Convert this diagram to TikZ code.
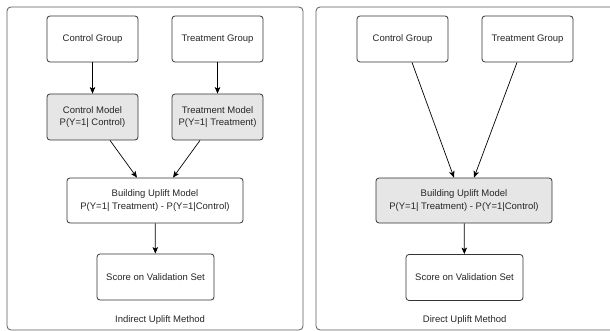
\documentclass[tikz,border=0pt]{standalone}
\usepackage{fontspec}
\setmainfont{Liberation Sans}
\usepackage{tikz}
\usepackage{xcolor}
\usetikzlibrary{positioning, arrows.meta}

\definecolor{boxline}{HTML}{333333}
\definecolor{frameline}{HTML}{5A5A5A}
\definecolor{modelfill}{HTML}{E6E6E6}

\tikzset{
    stepbox/.style={rectangle, rounded corners=3pt, draw=boxline, line width=0.8pt, fill=white, align=center,
        font=\fontsize{9.5}{12.5}\selectfont, text=black!85, minimum height=46pt, inner sep=2pt},
    groupbox/.style={stepbox, minimum width=91pt},
    modelbox/.style={stepbox, minimum width=91pt, fill=modelfill},
    upliftbox/.style={stepbox, minimum width=176pt, minimum height=45pt},
    scorebox/.style={stepbox, minimum width=117pt},
    panel/.style={rounded corners=4pt, draw=frameline, line width=0.8pt},
    caption/.style={font=\fontsize{9.5}{12}\selectfont, text=black!85},
    flow/.style={-{Stealth[length=6.5pt, width=5.5pt, inset=1.5pt]}, line width=0.7pt}
}

\begin{document}
\begin{tikzpicture}[x=1pt, y=-1pt]
            \clip (0, 0) rectangle (610, 331);
            \draw[panel] (7, 7) rectangle (303, 330);
            \draw[panel] (316, 7) rectangle (618, 330);

            % indirect method
            \node[groupbox] (cg) at (92.5, 39) {Control Group};
            \node[groupbox] (tg) at (217.5, 39) {Treatment Group};
            \node[modelbox] (cm) at (92.5, 117) {Control Model\\P(Y=1| Control)};
            \node[modelbox] (tm) at (217.5, 117) {Treatment Model\\P(Y=1| Treatment)};
            \node[upliftbox] (um) at (155, 200.5) {Building Uplift Model\\P(Y=1| Treatment) - P(Y=1|Control)};
            \node[scorebox] (sv) at (155.5, 277) {Score on Validation Set};
            \node[caption] (ind) at (160, 320) {Indirect Uplift Method};

            \draw[flow] (cg) -- (cm);
            \draw[flow] (tg) -- (tm);
            \draw[flow] ([xshift=17.5pt]cm.south) -- ([xshift=-18pt]um.north);
            \draw[flow] ([xshift=-17.5pt]tm.south) -- ([xshift=18pt]um.north);
            \draw[flow] (um) -- (sv);

            % direct method
            \node[groupbox] (cg2) at (402.5, 39) {Control Group};
            \node[groupbox] (tg2) at (527.5, 39) {Treatment Group};
            \node[upliftbox, fill=modelfill] (um2) at (464, 200.5) {Building Uplift Model\\P(Y=1| Treatment) - P(Y=1|Control)};
            \node[scorebox] (sv2) at (464.5, 277.5) {Score on Validation Set};
            \node[caption] (dir) at (464.7, 320) {Direct Uplift Method};

            \draw[flow] ([xshift=9.5pt]cg2.south) -- ([xshift=-10pt]um2.north);
            \draw[flow] ([xshift=-10.5pt]tg2.south) -- ([xshift=10pt]um2.north);
            \draw[flow] (um2) -- (sv2);
        \end{tikzpicture}
\end{document}
